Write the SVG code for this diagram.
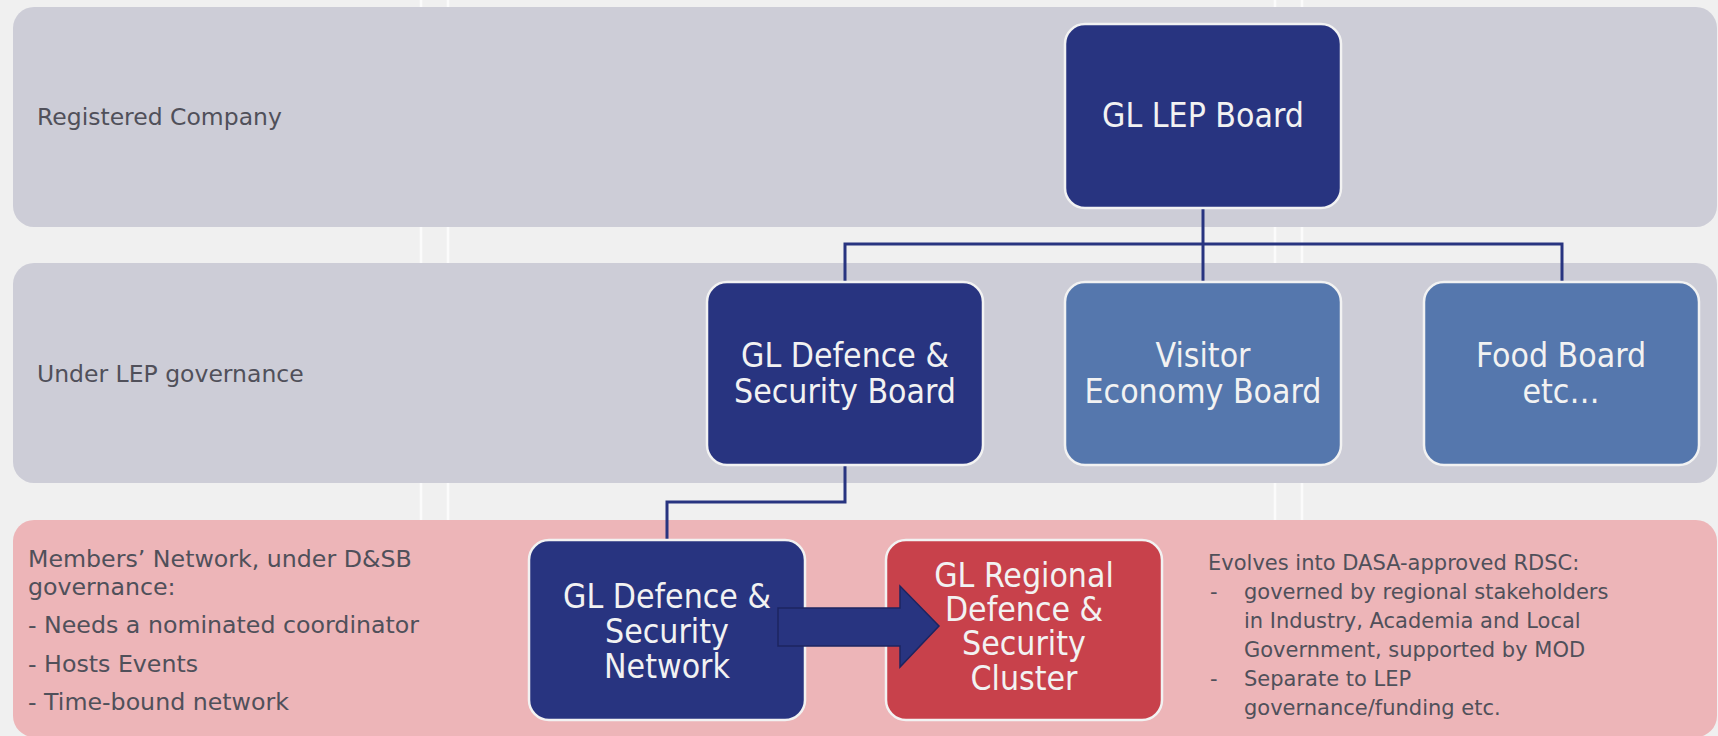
<svg xmlns="http://www.w3.org/2000/svg" width="1718" height="736" viewBox="0 0 1718 736">
<style>
.bg{fill:#f0f0f0}
.vline{stroke:#fbfbfb;stroke-width:2.5}
.band{fill:#cdcdd7}
.band-pink{fill:#edb5b8}
.lbl{font-family:"DejaVu Sans",Verdana,sans-serif;fill:#50505a}
.box{stroke:#f2f2f2;stroke-width:2.5}
.navy{fill:#283480}
.steel{fill:#5577ad}
.red{fill:#c8414b}
.nt{font-family:"DejaVu Sans Condensed","DejaVu Sans",sans-serif;font-stretch:condensed;font-size:33.5px;fill:#f2f2f2;text-anchor:middle}
.conn{fill:none;stroke:#283480;stroke-width:3}
</style>
<rect class="bg" x="0" y="0" width="1718" height="736"/>
<g id="background-lines">
<line class="vline" x1="421" y1="0" x2="421" y2="736"/>
<line class="vline" x1="448" y1="0" x2="448" y2="736"/>
<line class="vline" x1="1275" y1="0" x2="1275" y2="736"/>
<line class="vline" x1="1302" y1="0" x2="1302" y2="736"/>
</g>
<g id="band-registered">
<rect class="band" x="13" y="7" width="1704" height="220" rx="21"/>
<text class="lbl" x="37" y="125" font-size="23.5">Registered Company</text>
</g>
<g id="band-lep">
<rect class="band" x="13" y="263" width="1704" height="220" rx="21"/>
<text class="lbl" x="37" y="382" font-size="23.5">Under LEP governance</text>
</g>
<g id="band-members">
<rect class="band-pink" x="13" y="520" width="1704" height="217" rx="21"/>
<text class="lbl" font-size="23.7"><tspan x="28" y="567">Members’ Network, under D&amp;SB</tspan><tspan x="28" y="595">governance:</tspan><tspan x="28" y="633">- Needs a nominated coordinator</tspan><tspan x="28" y="672">- Hosts Events</tspan><tspan x="28" y="710">- Time-bound network</tspan></text>
</g>
<g id="rdsc-note">
<text class="lbl" font-size="21"><tspan x="1208" y="570">Evolves into DASA-approved RDSC:</tspan><tspan x="1210" y="599">-</tspan><tspan x="1244" y="599">governed by regional stakeholders</tspan><tspan x="1244" y="628">in Industry, Academia and Local</tspan><tspan x="1244" y="657">Government, supported by MOD</tspan><tspan x="1210" y="686">-</tspan><tspan x="1244" y="686">Separate to LEP</tspan><tspan x="1244" y="715">governance/funding etc.</tspan></text>
</g>
<g id="connectors">
<path class="conn" d="M1203 208 V282"/>
<path class="conn" d="M845 282 V244 H1562 V282"/>
<path class="conn" d="M845 465 V502 H667 V540"/>
</g>
<g id="lep-board">
<rect class="box navy" x="1065" y="24" width="276" height="184" rx="20"/>
<text class="nt" x="1203" y="127">GL LEP Board</text>
</g>
<g id="ds-board">
<rect class="box navy" x="707" y="282" width="276" height="183" rx="20"/>
<text class="nt"><tspan x="845" y="367">GL Defence &amp;</tspan><tspan x="845" y="403">Security Board</tspan></text>
</g>
<g id="visitor-board">
<rect class="box steel" x="1065" y="282" width="276" height="183" rx="20"/>
<text class="nt"><tspan x="1203" y="367">Visitor</tspan><tspan x="1203" y="403">Economy Board</tspan></text>
</g>
<g id="food-board">
<rect class="box steel" x="1424" y="282" width="275" height="183" rx="20"/>
<text class="nt"><tspan x="1561" y="367">Food Board</tspan><tspan x="1561" y="403">etc…</tspan></text>
</g>
<g id="ds-network">
<rect class="box navy" x="529" y="540" width="276" height="180" rx="20"/>
<text class="nt"><tspan x="667" y="608">GL Defence &amp;</tspan><tspan x="667" y="643">Security</tspan><tspan x="667" y="678">Network</tspan></text>
</g>
<g id="rdsc-cluster">
<rect class="box red" x="886" y="540" width="276" height="180" rx="20"/>
<text class="nt"><tspan x="1024" y="587">GL Regional</tspan><tspan x="1024" y="621">Defence &amp;</tspan><tspan x="1024" y="655">Security</tspan><tspan x="1024" y="690">Cluster</tspan></text>
</g>
<g id="evolves-arrow">
<polygon points="778,608 900,608 900,586 939,626 900,667 900,646 778,646" fill="#283480" stroke="#1c2460" stroke-width="1.5"/>
</g>
</svg>
